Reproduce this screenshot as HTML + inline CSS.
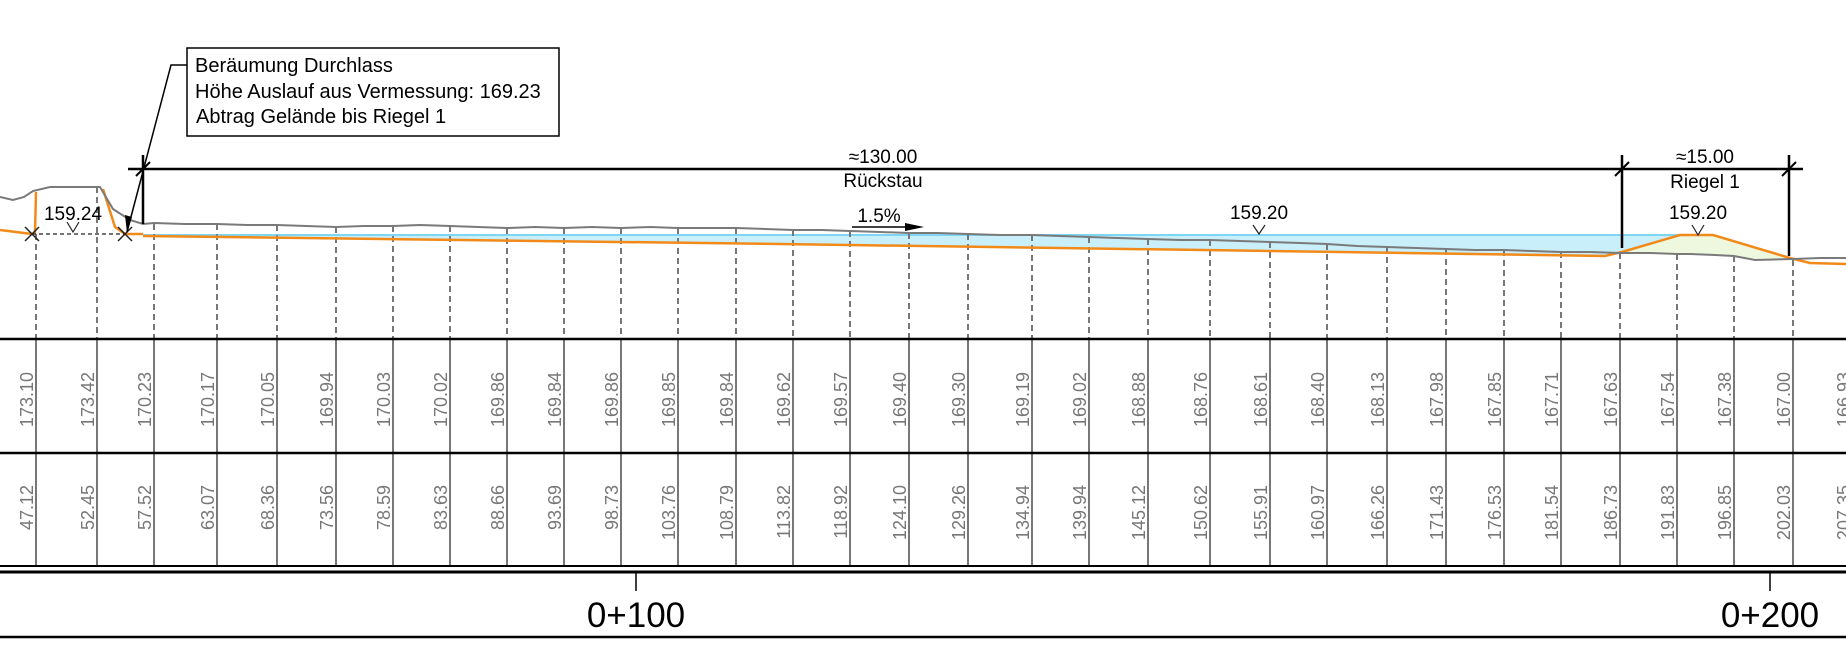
<!DOCTYPE html>
<html><head><meta charset="utf-8"><style>html,body{margin:0;padding:0;background:#fff}svg{display:block}</style></head>
<body>
<svg width="1846" height="645" viewBox="0 0 1846 645" xmlns="http://www.w3.org/2000/svg" font-family="Liberation Sans, sans-serif">
<!-- water fill -->
<polygon points="143,235 1680,235 1622,252 1605,256 1340,252 780,244 143,236" fill="#c9effb"/>
<!-- riegel fill -->
<polygon points="1622,252 1680,235 1713,235 1790,258 1755,260 1715,255 1690,254" fill="#eef8df"/>
<line x1="143" y1="235" x2="1680" y2="235" stroke="#7fd6f3" stroke-width="2"/>
<!-- dashed verticals -->
<g stroke="#777" stroke-width="2" stroke-dasharray="6,4">
<line x1="36" y1="234" x2="36" y2="339"/><line x1="97" y1="187" x2="97" y2="339"/>
<line x1="154" y1="224" x2="154" y2="339"/><line x1="217" y1="224" x2="217" y2="339"/>
<line x1="277" y1="225" x2="277" y2="339"/><line x1="336" y1="227" x2="336" y2="339"/>
<line x1="393" y1="226" x2="393" y2="339"/><line x1="450" y1="226" x2="450" y2="339"/>
<line x1="507" y1="228" x2="507" y2="339"/><line x1="564" y1="228" x2="564" y2="339"/>
<line x1="621" y1="228" x2="621" y2="339"/><line x1="678" y1="228" x2="678" y2="339"/>
<line x1="736" y1="228" x2="736" y2="339"/><line x1="793" y1="230" x2="793" y2="339"/>
<line x1="850" y1="231" x2="850" y2="339"/><line x1="909" y1="233" x2="909" y2="339"/>
<line x1="968" y1="234" x2="968" y2="339"/><line x1="1032" y1="235" x2="1032" y2="339"/>
<line x1="1089" y1="237" x2="1089" y2="339"/><line x1="1148" y1="239" x2="1148" y2="339"/>
<line x1="1210" y1="240" x2="1210" y2="339"/><line x1="1270" y1="242" x2="1270" y2="339"/>
<line x1="1327" y1="244" x2="1327" y2="339"/><line x1="1387" y1="247" x2="1387" y2="339"/>
<line x1="1446" y1="249" x2="1446" y2="339"/><line x1="1504" y1="250" x2="1504" y2="339"/>
<line x1="1561" y1="252" x2="1561" y2="339"/><line x1="1620" y1="253" x2="1620" y2="339"/>
<line x1="1677" y1="254" x2="1677" y2="339"/><line x1="1734" y1="256" x2="1734" y2="339"/>
<line x1="1793" y1="260" x2="1793" y2="339"/>
</g>
<!-- orange -->
<g fill="none" stroke="#f28a1a" stroke-width="2.5">
<polyline points="0,230 32,234"/>
<polyline points="35,234 36,192"/>
<polyline points="103,189 115,227 125,234 143,234"/>
<polyline points="143,236 780,244 1340,252 1605,256 1622,252 1680,235 1713,235 1790,258 1810,263 1846,264"/>
</g>
<!-- ground -->
<polyline fill="none" stroke="#7a7a7a" stroke-width="2" points="0,197 13,200 24,197 33,191 50,187 100,187 113,209 130,220 143,224 154,223 185,224 217,224 247,225 277,225 306,226 336,227 364,226 393,226 420,225 450,226 478,227 507,228 535,227 564,228 592,227 621,228 650,227 678,228 707,228 736,228 765,229 793,230 822,230 850,231 880,232 909,233 938,233 968,234 1000,235 1032,235 1060,236 1089,237 1118,238 1148,239 1180,240 1210,240 1240,241 1270,242 1300,243 1327,244 1357,246 1387,247 1416,248 1446,249 1475,250 1504,250 1532,251 1561,252 1590,252 1620,253 1650,253 1677,254 1690,254 1715,255 1734,256 1755,260 1793,259 1820,258 1846,258"/>
<!-- X marks + dashed level -->
<g stroke="#222" stroke-width="1.5">
<line x1="25" y1="227" x2="39" y2="241"/><line x1="25" y1="241" x2="39" y2="227"/>
<line x1="118" y1="227" x2="132" y2="241"/><line x1="118" y1="241" x2="132" y2="227"/>
<line x1="32" y1="234" x2="125" y2="234" stroke-dasharray="4,3" stroke-width="1.2"/>
<polyline points="67,222 73,232 79,222" fill="none" stroke-width="1.2"/>
<polyline points="1253,225 1259,234 1265,225" fill="none" stroke-width="1.2"/>
<polyline points="1692,225 1698,235 1704,225" fill="none" stroke-width="1.2"/>
</g>
<!-- dimension lines -->
<g stroke="#000" stroke-width="2.5">
<line x1="128" y1="169" x2="1803" y2="169"/>
<line x1="143" y1="155" x2="143" y2="224"/>
<line x1="1622" y1="155" x2="1622" y2="248"/>
<line x1="1789" y1="155" x2="1789" y2="256"/>
</g>
<g stroke="#000" stroke-width="2">
<line x1="136" y1="176" x2="150" y2="162"/>
<line x1="1615" y1="176" x2="1629" y2="162"/>
<line x1="1782" y1="176" x2="1796" y2="162"/>
</g>
<!-- leader -->
<polyline points="187,65 171,65 127,232" fill="none" stroke="#000" stroke-width="1.5"/>
<polygon points="127,233 125,215 132,217" fill="#000"/>
<rect x="187" y="48" width="372" height="88" fill="#fff" stroke="#000" stroke-width="1.5"/>
<g font-size="20" fill="#000">
<text x="195" y="72">Beräumung Durchlass</text>
<text x="195" y="98">Höhe Auslauf aus Vermessung: 169.23</text>
<text x="196" y="123">Abtrag Gelände bis Riegel 1</text>
</g>
<g font-size="19" fill="#000" text-anchor="middle">
<text x="73" y="220">159.24</text>
<text x="883" y="163">≈130.00</text>
<text x="883" y="187">Rückstau</text>
<text x="879" y="222">1.5%</text>
<text x="1259" y="219">159.20</text>
<text x="1705" y="163">≈15.00</text>
<text x="1705" y="188">Riegel 1</text>
<text x="1698" y="219">159.20</text>
</g>
<line x1="852" y1="227" x2="910" y2="227" stroke="#000" stroke-width="1.5"/>
<polygon points="905,223 924,227 905,231" fill="#000"/>
<!-- table -->
<g stroke="#777" stroke-width="2">
<line x1="36" y1="339" x2="36" y2="566"/><line x1="97" y1="339" x2="97" y2="566"/><line x1="154" y1="339" x2="154" y2="566"/><line x1="217" y1="339" x2="217" y2="566"/><line x1="277" y1="339" x2="277" y2="566"/><line x1="336" y1="339" x2="336" y2="566"/><line x1="393" y1="339" x2="393" y2="566"/><line x1="450" y1="339" x2="450" y2="566"/><line x1="507" y1="339" x2="507" y2="566"/><line x1="564" y1="339" x2="564" y2="566"/><line x1="621" y1="339" x2="621" y2="566"/><line x1="678" y1="339" x2="678" y2="566"/><line x1="736" y1="339" x2="736" y2="566"/><line x1="793" y1="339" x2="793" y2="566"/><line x1="850" y1="339" x2="850" y2="566"/><line x1="909" y1="339" x2="909" y2="566"/><line x1="968" y1="339" x2="968" y2="566"/><line x1="1032" y1="339" x2="1032" y2="566"/><line x1="1089" y1="339" x2="1089" y2="566"/><line x1="1148" y1="339" x2="1148" y2="566"/><line x1="1210" y1="339" x2="1210" y2="566"/><line x1="1270" y1="339" x2="1270" y2="566"/><line x1="1327" y1="339" x2="1327" y2="566"/><line x1="1387" y1="339" x2="1387" y2="566"/><line x1="1446" y1="339" x2="1446" y2="566"/><line x1="1504" y1="339" x2="1504" y2="566"/><line x1="1561" y1="339" x2="1561" y2="566"/><line x1="1620" y1="339" x2="1620" y2="566"/><line x1="1677" y1="339" x2="1677" y2="566"/><line x1="1734" y1="339" x2="1734" y2="566"/><line x1="1793" y1="339" x2="1793" y2="566"/>
</g>
<g stroke="#000">
<line x1="0" y1="339" x2="1846" y2="339" stroke-width="2.5"/>
<line x1="0" y1="453" x2="1846" y2="453" stroke-width="2.5"/>
<line x1="0" y1="566" x2="1846" y2="566" stroke-width="2"/>
<line x1="0" y1="572" x2="1846" y2="572" stroke-width="3"/>
<line x1="0" y1="637" x2="1846" y2="637" stroke-width="2.5"/>
<line x1="636" y1="573" x2="636" y2="591" stroke-width="1.5"/>
<line x1="1770" y1="573" x2="1770" y2="591" stroke-width="1.5"/>
</g>
<g font-size="35" fill="#000" text-anchor="middle">
<text x="636" y="627">0+100</text>
<text x="1770" y="627">0+200</text>
</g>
<g font-size="18" fill="#777" text-anchor="end">
<g transform="translate(0,0)">
<text transform="translate(33,372) rotate(-90)">173.10</text><text transform="translate(94,372) rotate(-90)">173.42</text><text transform="translate(151,372) rotate(-90)">170.23</text><text transform="translate(214,372) rotate(-90)">170.17</text><text transform="translate(274,372) rotate(-90)">170.05</text><text transform="translate(333,372) rotate(-90)">169.94</text><text transform="translate(390,372) rotate(-90)">170.03</text><text transform="translate(447,372) rotate(-90)">170.02</text><text transform="translate(504,372) rotate(-90)">169.86</text><text transform="translate(561,372) rotate(-90)">169.84</text><text transform="translate(618,372) rotate(-90)">169.86</text><text transform="translate(675,372) rotate(-90)">169.85</text><text transform="translate(733,372) rotate(-90)">169.84</text><text transform="translate(790,372) rotate(-90)">169.62</text><text transform="translate(847,372) rotate(-90)">169.57</text><text transform="translate(906,372) rotate(-90)">169.40</text><text transform="translate(965,372) rotate(-90)">169.30</text><text transform="translate(1029,372) rotate(-90)">169.19</text><text transform="translate(1086,372) rotate(-90)">169.02</text><text transform="translate(1145,372) rotate(-90)">168.88</text><text transform="translate(1207,372) rotate(-90)">168.76</text><text transform="translate(1267,372) rotate(-90)">168.61</text><text transform="translate(1324,372) rotate(-90)">168.40</text><text transform="translate(1384,372) rotate(-90)">168.13</text><text transform="translate(1443,372) rotate(-90)">167.98</text><text transform="translate(1501,372) rotate(-90)">167.85</text><text transform="translate(1558,372) rotate(-90)">167.71</text><text transform="translate(1617,372) rotate(-90)">167.63</text><text transform="translate(1674,372) rotate(-90)">167.54</text><text transform="translate(1731,372) rotate(-90)">167.38</text><text transform="translate(1790,372) rotate(-90)">167.00</text><text transform="translate(1850,372) rotate(-90)">166.93</text>
</g>
<g>
<text transform="translate(33,485) rotate(-90)">47.12</text><text transform="translate(94,485) rotate(-90)">52.45</text><text transform="translate(151,485) rotate(-90)">57.52</text><text transform="translate(214,485) rotate(-90)">63.07</text><text transform="translate(274,485) rotate(-90)">68.36</text><text transform="translate(333,485) rotate(-90)">73.56</text><text transform="translate(390,485) rotate(-90)">78.59</text><text transform="translate(447,485) rotate(-90)">83.63</text><text transform="translate(504,485) rotate(-90)">88.66</text><text transform="translate(561,485) rotate(-90)">93.69</text><text transform="translate(618,485) rotate(-90)">98.73</text><text transform="translate(675,485) rotate(-90)">103.76</text><text transform="translate(733,485) rotate(-90)">108.79</text><text transform="translate(790,485) rotate(-90)">113.82</text><text transform="translate(847,485) rotate(-90)">118.92</text><text transform="translate(906,485) rotate(-90)">124.10</text><text transform="translate(965,485) rotate(-90)">129.26</text><text transform="translate(1029,485) rotate(-90)">134.94</text><text transform="translate(1086,485) rotate(-90)">139.94</text><text transform="translate(1145,485) rotate(-90)">145.12</text><text transform="translate(1207,485) rotate(-90)">150.62</text><text transform="translate(1267,485) rotate(-90)">155.91</text><text transform="translate(1324,485) rotate(-90)">160.97</text><text transform="translate(1384,485) rotate(-90)">166.26</text><text transform="translate(1443,485) rotate(-90)">171.43</text><text transform="translate(1501,485) rotate(-90)">176.53</text><text transform="translate(1558,485) rotate(-90)">181.54</text><text transform="translate(1617,485) rotate(-90)">186.73</text><text transform="translate(1674,485) rotate(-90)">191.83</text><text transform="translate(1731,485) rotate(-90)">196.85</text><text transform="translate(1790,485) rotate(-90)">202.03</text><text transform="translate(1850,485) rotate(-90)">207.35</text>
</g>
</g>
</svg>
</body></html>
